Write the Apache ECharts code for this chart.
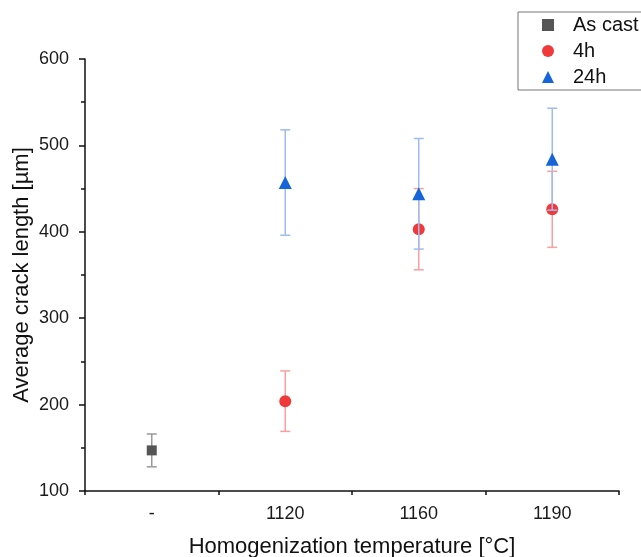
<!DOCTYPE html>
<html><head><meta charset="utf-8">
<script src="https://cdn.jsdelivr.net/npm/echarts@6/dist/echarts.min.js"></script>
<style>html,body{margin:0;padding:0;background:#fff}#c{width:641px;height:557px}</style>
</head><body><div id="c"></div>
<script>
const categories = ['-', '1120', '1160', '1190'];
const asCastX = [0];
const asCastY = [147];
const asCastErr = [19];
const h4X = [1, 2, 3];
const h4Y = [204, 403, 426];
const h4Err = [35, 47, 44];
const h24X = [1, 2, 3];
const h24Y = [457, 444, 484];
const h24Err = [61, 64, 59];
const yTicks = [100, 200, 300, 400, 500, 600];

const FONT = 'Liberation Sans';
function pts(xs, ys) { return xs.map((x, i) => [x, ys[i]]); }
function errData(xs, ys, es) { return xs.map((x, i) => [x, ys[i] - es[i], ys[i] + es[i]]); }
function errSeries(name, xs, ys, es, color, z) {
  return {
    type: 'custom', name: name + '_err', z: z, silent: true,
    data: errData(xs, ys, es),
    encode: { x: 0, y: [1, 2] },
    renderItem: function (params, api) {
      const lo = api.coord([api.value(0), api.value(1)]);
      const hi = api.coord([api.value(0), api.value(2)]);
      const w = 5;
      const st = { stroke: color, lineWidth: 1.5 };
      return { type: 'group', children: [
        { type: 'line', shape: { x1: lo[0], y1: lo[1], x2: hi[0], y2: hi[1] }, style: st },
        { type: 'line', shape: { x1: lo[0] - w, y1: lo[1], x2: lo[0] + w, y2: lo[1] }, style: st },
        { type: 'line', shape: { x1: hi[0] - w, y1: hi[1], x2: hi[0] + w, y2: hi[1] }, style: st }
      ]};
    }
  };
}
const chart = echarts.init(document.getElementById('c'));
chart.setOption({
  animation: false,
  backgroundColor: '#fff',
  textStyle: { fontFamily: FONT },
  grid: { left: 85, top: 59, right: 22, bottom: 66, containLabel: false, outerBoundsMode: 'none' },
  legend: {
    left: 518, top: 12, orient: 'vertical',
    padding: [3, 80, 3, 24], itemGap: 6,
    borderColor: '#777', borderWidth: 1, borderRadius: 0,
    itemWidth: 12, itemHeight: 12,
    textStyle: { fontFamily: FONT, fontSize: 20, color: '#111', padding: [0, 0, 0, 14] },
    data: [
      { name: 'As cast', icon: 'rect', itemStyle: { color: '#555555' } },
      { name: '4h', icon: 'circle', itemStyle: { color: '#f03a3a' } },
      { name: '24h', icon: 'triangle', itemStyle: { color: '#1565d8' } }
    ]
  },
  xAxis: [{
    type: 'category', data: categories, boundaryGap: true,
    name: 'Homogenization temperature [°C]', nameLocation: 'middle', nameGap: 45,
    nameMoveOverlap: false,
    nameTextStyle: { fontFamily: FONT, fontSize: 22, color: '#111' },
    axisLine: { lineStyle: { color: '#111', width: 1.5 } },
    axisTick: { alignWithLabel: true, length: 7, lineStyle: { color: '#111', width: 1.5 } },
    axisLabel: { fontFamily: FONT, fontSize: 18, color: '#1a1a1a', margin: 14 },
    splitLine: { show: false }
  }, {
    type: 'category', data: categories, boundaryGap: true, position: 'bottom',
    axisLine: { show: false },
    axisTick: { show: true, interval: 0, length: 4, lineStyle: { color: '#111', width: 1.5 } },
    axisLabel: { show: false }, splitLine: { show: false }
  }],
  yAxis: {
    type: 'value', min: yTicks[0], max: yTicks[yTicks.length - 1], interval: 100,
    name: 'Average crack length [µm]', nameLocation: 'middle', nameGap: 52,
    nameMoveOverlap: false,
    nameTextStyle: { fontFamily: FONT, fontSize: 22, color: '#111' },
    axisLine: { show: true, lineStyle: { color: '#111', width: 1.5 } },
    axisTick: { show: true, length: 6, lineStyle: { color: '#111', width: 1.5 } },
    minorTick: { show: true, splitNumber: 2, length: 4, lineStyle: { color: '#111', width: 1.5 } },
    axisLabel: { fontFamily: FONT, fontSize: 18, color: '#1a1a1a', margin: 16 },
    splitLine: { show: false }
  },
  series: [
    errSeries('As cast', asCastX, asCastY, asCastErr, '#999999', 1),
    { type: 'scatter', name: 'As cast', symbol: 'rect', symbolSize: 10, z: 2,
      itemStyle: { color: '#555555', opacity: 1 }, data: pts(asCastX, asCastY) },
    errSeries('4h', h4X, h4Y, h4Err, '#f7a0a0', 3),
    { type: 'scatter', name: '4h', symbol: 'circle', symbolSize: 12, z: 4,
      itemStyle: { color: '#f03a3a', opacity: 1 }, data: pts(h4X, h4Y) },
    errSeries('24h', h24X, h24Y, h24Err, '#9dbcf0', 5),
    { type: 'scatter', name: '24h', symbol: 'triangle', symbolSize: 13, z: 6,
      itemStyle: { color: '#1565d8', opacity: 1 }, data: pts(h24X, h24Y) }
  ]
});
</script></body></html>
